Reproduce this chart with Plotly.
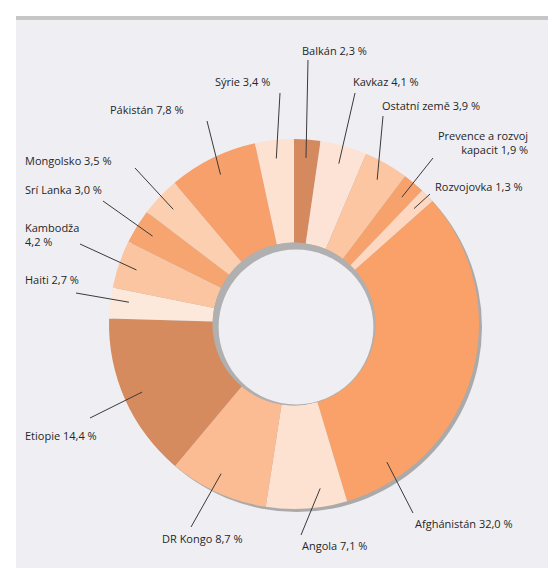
import numpy as np
import plotly.graph_objects as go

# data, clockwise from 12 o'clock
regions = ['Balkán', 'Kavkaz', 'Ostatní země', 'Prevence a rozvoj kapacit', 'Rozvojovka',
           'Afghánistán', 'Angola', 'DR Kongo', 'Etiopie', 'Haiti', 'Kambodža',
           'Srí Lanka', 'Mongolsko', 'Pákistán', 'Sýrie']
shares = [2.3, 4.1, 3.9, 1.9, 1.3, 32.0, 7.1, 8.7, 14.4, 2.7, 4.2, 3.0, 3.5, 7.8, 3.4]
label_texts = ['Balkán 2,3 %', 'Kavkaz 4,1 %', 'Ostatní země 3,9 %', 'Prevence a rozvoj<br>kapacit 1,9 %',
               'Rozvojovka 1,3 %', 'Afghánistán 32,0 %', 'Angola 7,1 %', 'DR Kongo 8,7 %',
               'Etiopie 14,4 %', 'Haiti 2,7 %', 'Kambodža<br>4,2 %', 'Srí Lanka 3,0 %',
               'Mongolsko 3,5 %', 'Pákistán 7,8 %', 'Sýrie 3,4 %']

colors = ['#d48a5e', '#fde3d5', '#fcc6a2', '#f7a26c', '#fdd7bf', '#f9a169', '#fde2d2', '#fbbb93',
          '#d68b5f', '#fde8dc', '#fcc5a1', '#f6a470', '#fccfb1', '#f7a06b', '#fde1d1']

# layout in pixels
W, H = 556, 568
cx, cy, R = 286, 316, 185
HOLE = 0.44
# label text position (px) and anchor, leader tail (px), where on the slice the line ends
lab_pos = [(292, 42, 'left'), (343, 74, 'left'), (372, 97, 'left'), (522, 135, 'right'),
           (425, 178, 'left'), (405, 515, 'left'), (292, 537, 'left'), (152, 530, 'left'),
           (15, 427, 'left'), (15, 271, 'left'), (15, 226, 'left'), (15, 181, 'left'),
           (15, 152, 'left'), (100, 102, 'left'), (205, 73, 'left')]
tails = [(300, 52), (347, 85), (375, 108), (425, 150), (422, 186), (405, 505), (293, 527),
         (183, 519), (82, 410), (68, 285), (72, 236), (95, 193), (127, 160), (199, 113), (272, 85)]
frac = [0.5, 0.5, 0.5, 0.5, 0.5, 0.85, 0.3, 0.55, 0.5, 0.6, 0.5, 0.5, 0.5, 0.5, 0.5]


def px(x, y):
    return x / W, 1 - y / H


fig = go.Figure()
x0, y1 = px(cx - R, cy - R)
x1, y0 = px(cx + R, cy + R)
fig.add_trace(go.Pie(labels=regions, values=shares, sort=False, direction='clockwise',
                     rotation=0, hole=HOLE, textinfo='none', hoverinfo='label+value',
                     marker=dict(colors=colors, line=dict(width=0)),
                     domain=dict(x=[x0, x1], y=[y0, y1]), showlegend=False))

BG = '#efeff3'
shapes = []
# backdrop
bx0, by1 = px(8, 8)
bx1, by0 = px(W, H)
shapes.append(dict(type='rect', xref='paper', yref='paper', x0=bx0, x1=bx1, y0=by0, y1=by1,
                   fillcolor=BG, line=dict(width=0), layer='below'))
tx0, ty1 = px(8, 8)
tx1, ty0 = px(W, 12)
shapes.append(dict(type='rect', xref='paper', yref='paper', x0=tx0, x1=tx1, y0=ty0, y1=ty1,
                   fillcolor='#c6c6c6', line=dict(width=0), layer='below'))


def circle(x, y, r, color, layer):
    a0, b1 = px(x - r, y - r)
    a1, b0 = px(x + r, y + r)
    return dict(type='circle', xref='paper', yref='paper', x0=a0, x1=a1, y0=b0, y1=b1,
                fillcolor=color, line=dict(width=0), layer=layer)


# drop shadow under the ring and inner shadow in the hole
shapes.append(circle(cx + 3, cy + 3, R, '#aaaaaa', 'below'))
rh = R * HOLE
shapes.append(circle(cx, cy, rh, '#b0b0b0', 'above'))
shapes.append(circle(cx + 2, cy + 3, rh - 4, BG, 'above'))

# leader lines + labels
bounds = np.concatenate([[0], np.cumsum(shares)]) / np.sum(shares) * 360
annotations = []
for i, txt in enumerate(label_texts):
    ang = np.radians(bounds[i] + frac[i] * (bounds[i + 1] - bounds[i]))
    hx = cx + 0.9 * R * np.sin(ang)
    hy = cy - 0.9 * R * np.cos(ang)
    lx0, ly0 = px(*tails[i])
    lx1, ly1 = px(hx, hy)
    shapes.append(dict(type='line', xref='paper', yref='paper', x0=lx0, y0=ly0, x1=lx1, y1=ly1,
                       line=dict(color='#3a3a3a', width=1), layer='above'))
    tx, ty, anchor = lab_pos[i]
    ax_, ay_ = px(tx, ty)
    annotations.append(dict(x=ax_, y=ay_, xref='paper', yref='paper', text=txt, showarrow=False,
                            xanchor=anchor, yanchor='middle', align=anchor,
                            font=dict(family='Open Sans', size=11, color='#262626')))

fig.update_layout(width=W, height=H, margin=dict(l=0, r=0, t=0, b=0),
                  paper_bgcolor='#ffffff', plot_bgcolor='#ffffff',
                  shapes=shapes, annotations=annotations)

fig.write_html("out.html")
